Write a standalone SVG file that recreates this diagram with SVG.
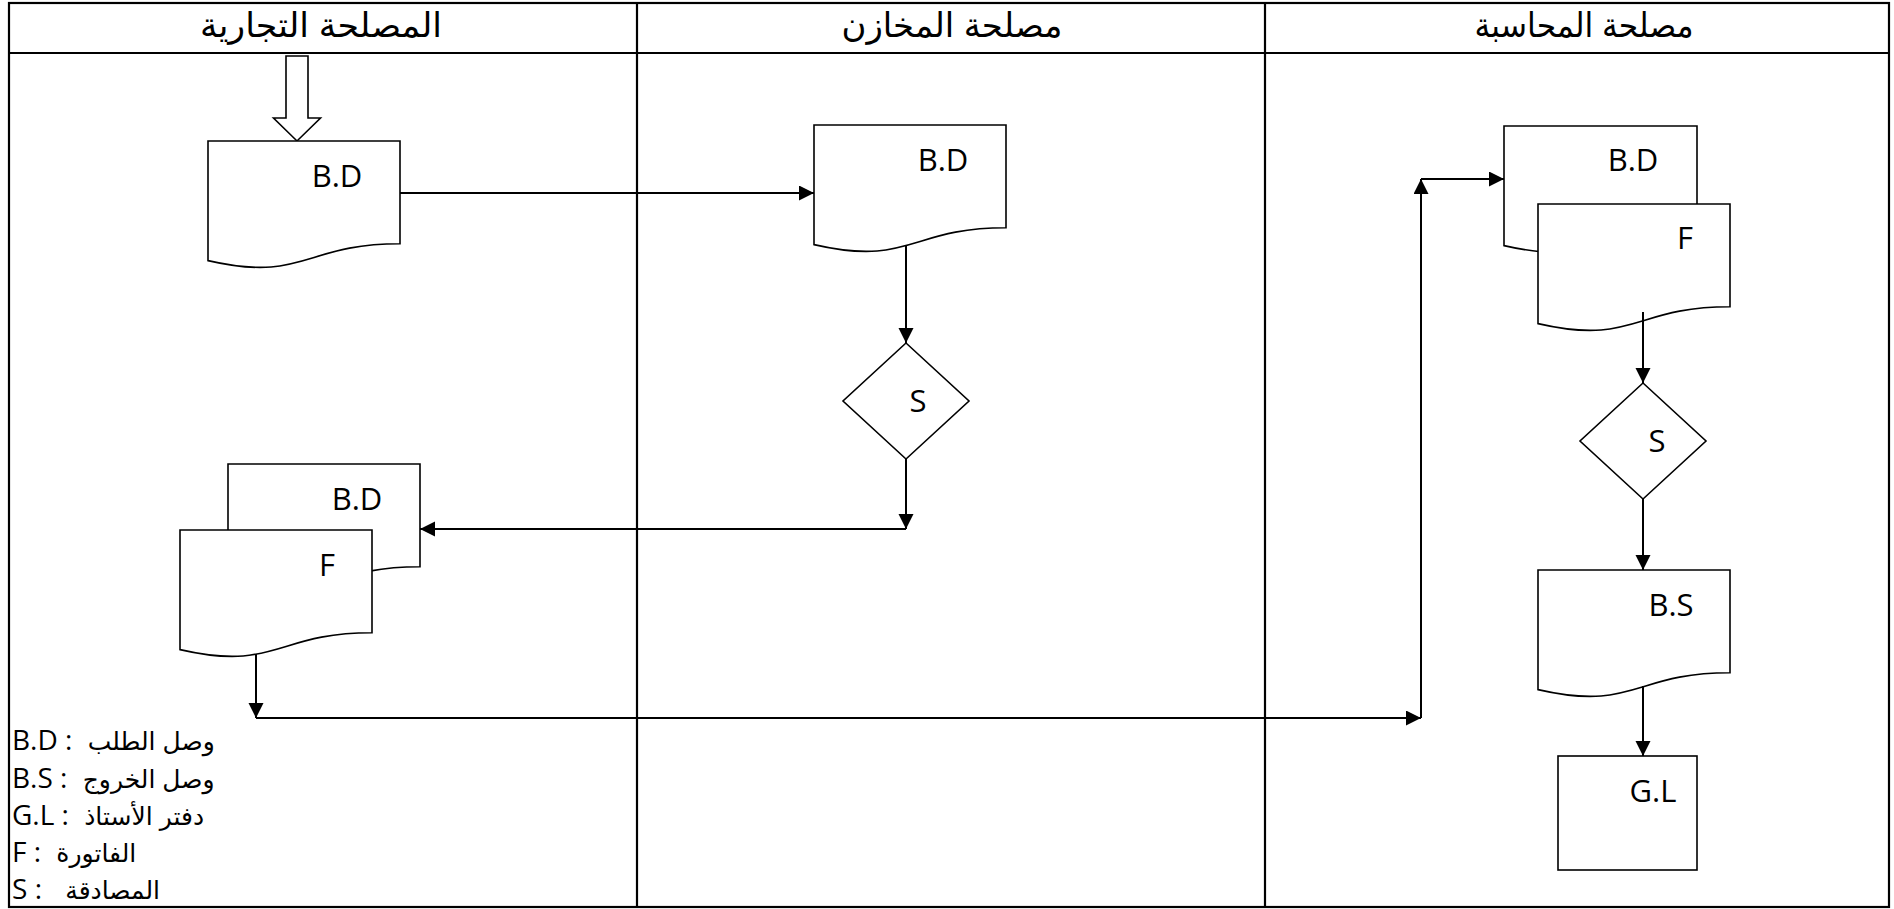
<svg xmlns="http://www.w3.org/2000/svg" width="1894" height="909" viewBox="0 0 1894 909">
<defs>
<marker id="ah" markerUnits="userSpaceOnUse" markerWidth="16" markerHeight="16" refX="15" refY="7.5" orient="auto">
<path d="M0,0 L15,7.5 L0,15 Z" fill="#000"/>
</marker>
<style>
.frame{fill:none;stroke:#000;stroke-width:2.2}
.shape{fill:#fff;stroke:#000;stroke-width:1.6}
.conn{fill:none;stroke:#000;stroke-width:2;marker-end:url(#ah)}
.lbl{font-family:"Open Sans","Noto Sans",sans-serif;font-size:31px;fill:#000;text-anchor:middle}
.hdr{font-family:"Liberation Sans","DejaVu Sans",sans-serif;font-size:34px;fill:#000;text-anchor:middle}
.lg{font-family:"Open Sans","Noto Sans",sans-serif;font-size:28px;fill:#000}
.ar{font-family:"Liberation Sans","DejaVu Sans",sans-serif;font-size:25px}
</style>
</defs>
<rect width="1894" height="909" fill="#fff"/>
<g id="table">
<rect class="frame" x="9" y="3" width="1880" height="904"/>
<line class="frame" x1="9" y1="53" x2="1889" y2="53"/>
<line class="frame" x1="637" y1="3" x2="637" y2="907"/>
<line class="frame" x1="1265" y1="3" x2="1265" y2="907"/>
<text class="hdr" x="321" y="37" textLength="242" lengthAdjust="spacingAndGlyphs">المصلحة التجارية</text>
<text class="hdr" x="952" y="37" textLength="221" lengthAdjust="spacingAndGlyphs">مصلحة المخازن</text>
<text class="hdr" x="1584" y="37" textLength="219" lengthAdjust="spacingAndGlyphs">مصلحة المحاسبة</text>
</g>
<g id="input-arrow">
<path class="shape" d="M286,56 H308 V118 H320.5 L297,141 L273.5,118 H286 Z"/>
</g>
<g id="doc-bd-1">
<path class="shape" d="M208,141 H400 V243.7 C304,243.7 304,282.8 208,260.6 Z"/>
<text class="lbl" x="337" y="187">B.D</text>
</g>
<g id="doc-bd-2">
<path class="shape" d="M814,125 H1006 V227.7 C910,227.7 910,266.8 814,244.6 Z"/>
<text class="lbl" x="943" y="171">B.D</text>
</g>
<g id="dec-s-1">
<path class="shape" d="M906,343 L969,401 L906,459 L843,401 Z"/>
<text class="lbl" x="918" y="412">S</text>
</g>
<g id="doc-bd-3">
<path class="shape" d="M228,464 H420 V566.7 C324,566.7 324,605.8 228,583.6 Z"/>
<text class="lbl" x="357" y="510">B.D</text>
</g>
<g id="doc-f-1">
<path class="shape" d="M180,530 H372 V632.7 C276,632.7 276,671.8 180,649.6 Z"/>
<text class="lbl" x="327" y="576">F</text>
</g>
<g id="doc-bd-4">
<path class="shape" d="M1504,126 H1697 V228.7 C1600.5,228.7 1600.5,267.8 1504,245.6 Z"/>
<text class="lbl" x="1633" y="171">B.D</text>
</g>
<g id="doc-f-2">
<path class="shape" d="M1538,204 H1730 V306.7 C1634,306.7 1634,345.8 1538,323.6 Z"/>
<text class="lbl" x="1685" y="249">F</text>
</g>
<g id="dec-s-2">
<path class="shape" d="M1643,383 L1706,441 L1643,499 L1580,441 Z"/>
<text class="lbl" x="1657" y="452">S</text>
</g>
<g id="doc-bs">
<path class="shape" d="M1538,570 H1730 V672.7 C1634,672.7 1634,711.8 1538,689.6 Z"/>
<text class="lbl" x="1671" y="616">B.S</text>
</g>
<g id="ledger-gl">
<rect class="shape" x="1558" y="756" width="139" height="114"/>
<text class="lbl" x="1653" y="802">G.L</text>
</g>
<g id="connectors">
<path class="conn" d="M400,193 H814"/>
<path class="conn" d="M906,246 V343"/>
<path class="conn" d="M906,459 V529"/>
<path class="conn" d="M906,529 H420"/>
<path class="conn" d="M256,654 V718"/>
<path class="conn" d="M256,718 H1421"/>
<path class="conn" d="M1421,718 V179"/>
<path class="conn" d="M1421,179 H1504"/>
<path class="conn" d="M1643,312 V383"/>
<path class="conn" d="M1643,499 V570"/>
<path class="conn" d="M1643,686 V756"/>
</g>
<g id="legend">
<text class="lg" x="12" y="750">B.D : <tspan class="ar" dx="8">وصل الطلب</tspan></text>
<text class="lg" x="12" y="788">B.S : <tspan class="ar" dx="8">وصل الخروج</tspan></text>
<text class="lg" x="12" y="825">G.L : <tspan class="ar" dx="8">دفتر الأستاذ</tspan></text>
<text class="lg" x="12" y="862">F : <tspan class="ar" dx="8">الفاتورة</tspan></text>
<text class="lg" x="12" y="899">S : <tspan class="ar" dx="16">المصادقة</tspan></text>
</g>
</svg>
